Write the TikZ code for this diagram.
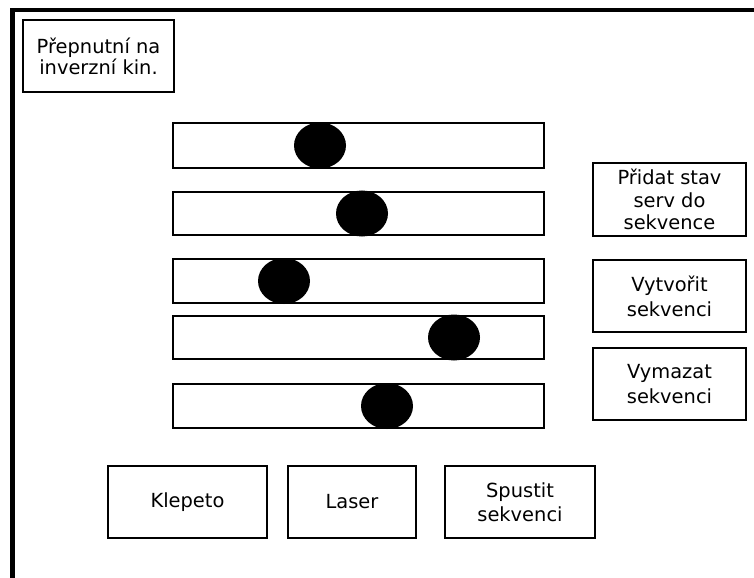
\documentclass[tikz,border=0pt]{standalone}
\usepackage{fontspec}
\setmainfont{DejaVu Sans}
\usetikzlibrary{shapes.geometric}
\begin{document}
\begin{tikzpicture}[x=1bp,y=-1bp,
  box/.style={draw=black,line width=2bp,fill=white,align=center,inner sep=0pt,font=\fontsize{19.5}{21}\selectfont},
  widebox/.style={box,font=\fontsize{19.5}{25}\selectfont},
  track/.style={draw=black,line width=2bp,fill=white,inner sep=0pt},
  knob/.style={ellipse,fill=black,inner sep=0pt,minimum width=52bp,minimum height=46bp}]
\useasboundingbox (0,0) rectangle (754,578);
\clip (0,0) rectangle (754,578);
\draw[line width=4.5bp] (12.5,10) rectangle (800,620);
% top-left box
\node[box,minimum width=151bp,minimum height=72bp] (inv) at (98.5,56) {Přepnutní na\\inverzní kin.};
% sliders
\foreach \n/\yt/\yb in {1/123/168,2/192/235,3/259/303,4/316/359,5/384/428}{
  \node[track,minimum width=371bp,minimum height={\yb-\yt}] (s\n) at (358,{(\yt+\yb)/2}) {};
}
\node[knob] (k1) at (320,145.5) {};
\node[knob] (k2) at (362,213.5) {};
\node[knob] (k3) at (284,281) {};
\node[knob] (k4) at (454,337.5) {};
\node[knob] (k5) at (387,406) {};
% right boxes
\node[box,font=\fontsize{19.5}{22.5}\selectfont,minimum width=153bp,minimum height=73bp] (add) at (669.5,199.5) {Přidat stav\\serv do\\sekvence};
\node[widebox,minimum width=153bp,minimum height=72bp] (create) at (669.5,296) {Vytvořit\\sekvenci};
\node[widebox,minimum width=153bp,minimum height=72bp] (del) at (669.5,384) {Vymazat\\sekvenci};
% bottom boxes
\node[box,minimum width=159bp,minimum height=72bp] (kl) at (187.5,502) {Klepeto};
\node[box,minimum width=128bp,minimum height=72bp] (las) at (352,502) {Laser};
\node[widebox,font=\fontsize{19.5}{24}\selectfont,minimum width=150bp,minimum height=72bp] (run) at (520,502) {Spustit\\sekvenci};
\end{tikzpicture}
\end{document}
